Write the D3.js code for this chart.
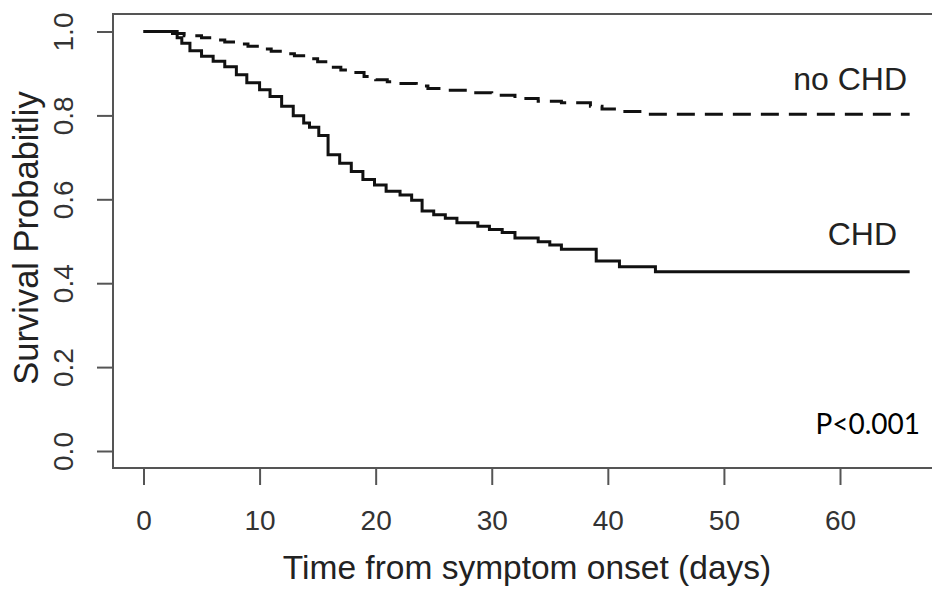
<!DOCTYPE html>
<html>
<head>
<meta charset="utf-8">
<script src="https://cdn.jsdelivr.net/npm/d3@7"></script>
<style>
  body { margin: 0; background: #fff; }
  svg { display: block; }
  text { font-family: "Liberation Sans", Arial, sans-serif; }
</style>
</head>
<body>
<svg id="km"></svg>
<script>
// survival step data: [time (days), survival]
let chdTimes = [0, 2.9, 3.3, 4.0, 5.0, 6.0, 7.0, 8.0, 8.9, 10.0, 10.9, 11.9, 12.9, 13.8, 14.3, 15.1, 15.9,
                16.9, 17.9, 18.9, 19.9, 20.9, 22.1, 23.1, 24.0, 25.0, 26.0, 27.0, 28.8, 29.8, 30.9,
                32.0, 34.0, 35.0, 36.0, 39.0, 41.0, 44.1, 66];
let chdSurv  = [1.0, 0.985, 0.972, 0.954, 0.941, 0.929, 0.916, 0.897, 0.878, 0.861, 0.845, 0.822, 0.799, 0.782, 0.772, 0.752, 0.706,
                0.686, 0.666, 0.647, 0.634, 0.619, 0.610, 0.598, 0.572, 0.563, 0.555, 0.544, 0.536, 0.528, 0.521,
                0.508, 0.499, 0.491, 0.481, 0.453, 0.439, 0.427, 0.427];

let noChdTimes = [0, 2.5, 3.5, 5.0, 6.0, 7.0, 8.0, 9.0, 10.0, 11.0, 12.0, 13.0, 14.0, 15.0, 16.0, 17.0, 18.0,
                  19.0, 20.0, 21.0, 22.0, 23.5, 24.5, 26.0, 28.0, 30.0, 32.0, 34.0, 36.0, 38.5, 39.5,
                  41.0, 43.5, 66];
let noChdSurv  = [1.0, 0.995, 0.99, 0.985, 0.98, 0.975, 0.97, 0.965, 0.958, 0.953, 0.947, 0.942, 0.935, 0.928, 0.915, 0.908, 0.902,
                  0.893, 0.885, 0.88, 0.876, 0.87, 0.864, 0.86, 0.854, 0.848, 0.84, 0.834, 0.83, 0.822, 0.815,
                  0.809, 0.803, 0.803];

let xTicks = [0, 10, 20, 30, 40, 50, 60];
let yTicks = [0.0, 0.2, 0.4, 0.6, 0.8, 1.0];

// svg size
let widthSVG = 932;
let heightSVG = 589;

let SVG = d3.select('svg#km')
            .attr('width', widthSVG)
            .attr('height', heightSVG);

// scales
let x = d3.scaleLinear().domain([0, 60]).range([143.5, 840]);
let y = d3.scaleLinear().domain([0, 1]).range([451, 31.5]);

// plot frame (runs off the right edge like the original)
SVG.append('rect')
   .attr('x', 113)
   .attr('y', 14)
   .attr('width', 840)
   .attr('height', 454)
   .style('fill', 'none')
   .style('stroke', '#555')
   .style('stroke-width', '2px');

// x axis
let xAxis = d3.axisBottom(x)
  .tickValues(xTicks)
  .tickSize(17)
  .tickPadding(18)
  .tickFormat(d3.format('d'));

let xG = SVG.append('g')
  .attr('transform', 'translate(0, 468)')
  .call(xAxis);

xG.select('.domain').remove();
xG.selectAll('line').style('stroke', '#555').style('stroke-width', '2px');
xG.selectAll('text')
  .attr('y', 62)
  .attr('dy', 0)
  .style('font-size', '28px')
  .style('font-family', '"Liberation Sans", Arial, sans-serif')
  .style('fill', '#333');

// y axis with rotated labels
let yAxis = d3.axisLeft(y)
  .tickValues(yTicks)
  .tickSize(16)
  .tickFormat(d3.format('.1f'));

let yG = SVG.append('g')
  .attr('transform', 'translate(113, 0)')
  .call(yAxis);

yG.select('.domain').remove();
yG.selectAll('line').style('stroke', '#555').style('stroke-width', '2px');
yG.selectAll('text')
  .attr('x', 0)
  .attr('dy', 0)
  .attr('transform', 'translate(-40, 0) rotate(-90)')
  .style('text-anchor', 'middle')
  .style('font-size', '28px')
  .style('font-family', '"Liberation Sans", Arial, sans-serif')
  .style('fill', '#333');

// axis titles
SVG.append('text')
   .text('Time from symptom onset (days)')
   .attr('x', 527)
   .attr('y', 579)
   .style('text-anchor', 'middle')
   .style('font-size', '33.5px')
   .style('fill', '#222');

SVG.append('text')
   .text('Survival Probabitliy')
   .attr('transform', 'translate(38, 238) rotate(-90)')
   .style('text-anchor', 'middle')
   .style('font-size', '34.5px')
   .style('fill', '#222');

// step curves
let stepLine = d3.line()
  .x(d => x(d[0]))
  .y(d => y(d[1]))
  .curve(d3.curveStepAfter);

let chdData = chdTimes.map((t, i) => [t, chdSurv[i]]);
let noChdData = noChdTimes.map((t, i) => [t, noChdSurv[i]]);

SVG.append('path')
   .datum(noChdData)
   .attr('class', 'noChd')
   .attr('d', stepLine)
   .style('fill', 'none')
   .style('stroke', '#111')
   .style('stroke-width', '3px')
   .style('stroke-dasharray', '18,10');

SVG.append('path')
   .datum(chdData)
   .attr('class', 'chd')
   .attr('d', stepLine)
   .style('fill', 'none')
   .style('stroke', '#111')
   .style('stroke-width', '3px');

// curve labels
SVG.append('text')
   .text('no CHD')
   .attr('x', 907)
   .attr('y', 90)
   .style('text-anchor', 'end')
   .style('font-size', '32px')
   .style('fill', '#222');

SVG.append('text')
   .text('CHD')
   .attr('x', 897)
   .attr('y', 245)
   .style('text-anchor', 'end')
   .style('font-size', '32px')
   .style('fill', '#222');

SVG.append('text')
   .text('P<0.001')
   .attr('x', 920)
   .attr('y', 434)
   .style('text-anchor', 'end')
   .style('font-family', 'Lato, "Open Sans", sans-serif')
   .style('font-size', '28px')
   .style('fill', '#000');
</script>
</body>
</html>
